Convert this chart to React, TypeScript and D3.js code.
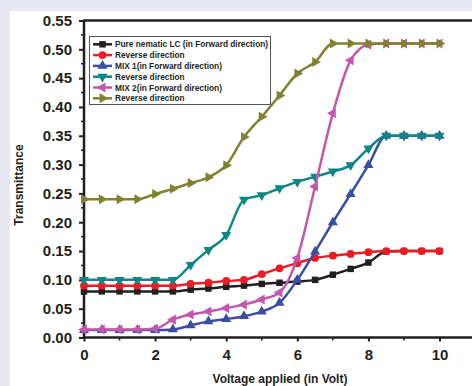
import { useEffect, useRef } from "react";
import * as d3 from "d3";

// Voltage steps (V)
const voltage = [0, 0.5, 1, 1.5, 2, 2.5, 3, 3.5, 4, 4.5, 5, 5.5, 6, 6.5, 7, 7.5, 8, 8.5, 9, 9.5, 10];

const pureForward = [0.08, 0.08, 0.08, 0.08, 0.08, 0.08, 0.083, 0.085, 0.088, 0.09, 0.093, 0.095, 0.097, 0.1, 0.109, 0.119, 0.13, 0.149, 0.15, 0.15, 0.15];
const pureReverse = [0.09, 0.09, 0.09, 0.09, 0.09, 0.09, 0.093, 0.095, 0.098, 0.1, 0.11, 0.12, 0.129, 0.138, 0.142, 0.145, 0.148, 0.15, 0.15, 0.15, 0.15];
const mix1Forward = [0.013, 0.013, 0.013, 0.013, 0.013, 0.014, 0.021, 0.028, 0.032, 0.037, 0.045, 0.06, 0.1, 0.149, 0.2, 0.249, 0.299, 0.35, 0.35, 0.35, 0.35];
const mix1Reverse = [0.1, 0.1, 0.1, 0.1, 0.1, 0.1, 0.126, 0.152, 0.178, 0.239, 0.247, 0.259, 0.27, 0.279, 0.288, 0.299, 0.328, 0.35, 0.35, 0.35, 0.35];
const mix2Forward = [0.014, 0.014, 0.014, 0.014, 0.015, 0.031, 0.04, 0.045, 0.051, 0.057, 0.066, 0.078, 0.138, 0.262, 0.389, 0.481, 0.508, 0.51, 0.51, 0.51, 0.51];
const mix2Reverse = [0.24, 0.24, 0.24, 0.24, 0.249, 0.258, 0.268, 0.278, 0.299, 0.348, 0.383, 0.42, 0.458, 0.478, 0.51, 0.51, 0.51, 0.51, 0.51, 0.51, 0.51];

const seriesNames = [
  "Pure nematic LC (in Forward direction)",
  "Reverse direction",
  "MIX 1(in Forward direction)",
  "Reverse direction",
  "MIX 2(in Forward direction)",
  "Reverse direction",
];
const seriesValues = [pureForward, pureReverse, mix1Forward, mix1Reverse, mix2Forward, mix2Reverse];
const seriesColors = ["#231f20", "#ed1c24", "#3a4fa3", "#0d8686", "#c257ac", "#808232"];
// marker: symbol type, rotation, area
const seriesMarkers: [d3.SymbolType, number, number][] = [
  [d3.symbolSquare, 0, 42],
  [d3.symbolCircle, 0, 48],
  [d3.symbolTriangle, 0, 44],
  [d3.symbolTriangle, 180, 44],
  [d3.symbolTriangle, -90, 44],
  [d3.symbolTriangle, 90, 44],
];

const xTicks = [0, 2, 4, 6, 8, 10];
const yTicks = [0, 0.05, 0.1, 0.15, 0.2, 0.25, 0.3, 0.35, 0.4, 0.45, 0.5, 0.55];

const W = 472;
const H = 386;
const FONT = "'Liberation Sans', Arial, Helvetica, sans-serif";

export default function App() {
  const svgRef = useRef<SVGSVGElement>(null);

  useEffect(() => {
    if (!svgRef.current) return;
    const svg = d3.select(svgRef.current);
    svg.selectAll("*").remove();

    // background + white panel
    svg.append("rect").attr("width", W).attr("height", H).attr("fill", "#e8e8f2");
    svg.append("rect").attr("x", 10).attr("y", 11).attr("width", W - 10).attr("height", H - 11).attr("fill", "#fff");

    const x = d3.scaleLinear().domain([0, 10]).range([84, 439.5]);
    const y = d3.scaleLinear().domain([0, 0.55]).range([337.5, 20.5]);

    // axes
    const gx = svg
      .append("g")
      .attr("transform", `translate(0,${y(0)})`)
      .call(d3.axisBottom(x).tickValues(xTicks).tickSize(4).tickPadding(8).tickFormat((d) => `${d}`));
    gx.select(".domain").remove();
    gx.selectAll(".tick line").attr("stroke", "#231f20").attr("stroke-width", 2);
    gx.selectAll(".tick text")
      .attr("fill", "#231f20")
      .attr("font-family", FONT)
      .attr("font-weight", "bold")
      .attr("font-size", "15px");
    // x minor ticks
    svg
      .append("g")
      .selectAll("line")
      .data([1, 3, 5, 7, 9])
      .join("line")
      .attr("x1", (d) => x(d))
      .attr("x2", (d) => x(d))
      .attr("y1", y(0))
      .attr("y2", y(0) + 3)
      .attr("stroke", "#231f20")
      .attr("stroke-width", 1.5);

    const gy = svg
      .append("g")
      .attr("transform", `translate(${x(0)},0)`)
      .call(d3.axisLeft(y).tickValues(yTicks).tickSize(5).tickPadding(7).tickFormat((d) => d3.format(".2f")(d as number)));
    gy.select(".domain").remove();
    gy.selectAll(".tick line").attr("stroke", "#231f20").attr("stroke-width", 2);
    gy.selectAll(".tick text")
      .attr("fill", "#231f20")
      .attr("font-family", FONT)
      .attr("font-weight", "bold")
      .attr("font-size", "15px");
    // y minor ticks
    svg
      .append("g")
      .selectAll("line")
      .data(yTicks.slice(0, -1).map((t) => t + 0.025))
      .join("line")
      .attr("x1", x(0) - 3)
      .attr("x2", x(0))
      .attr("y1", (d) => y(d))
      .attr("y2", (d) => y(d))
      .attr("stroke", "#231f20")
      .attr("stroke-width", 1.5);

    // frame lines: left, bottom, top
    svg.append("line").attr("x1", x(0)).attr("x2", x(0)).attr("y1", y(0.55) - 1).attr("y2", y(0) + 1).attr("stroke", "#231f20").attr("stroke-width", 2.5);
    svg.append("line").attr("x1", x(0)).attr("x2", W).attr("y1", y(0)).attr("y2", y(0)).attr("stroke", "#231f20").attr("stroke-width", 2.5);
    svg.append("line").attr("x1", x(0)).attr("x2", W).attr("y1", y(0.55)).attr("y2", y(0.55)).attr("stroke", "#231f20").attr("stroke-width", 2.5);

    // axis titles
    svg
      .append("text")
      .attr("x", 280)
      .attr("y", 383)
      .attr("text-anchor", "middle")
      .attr("font-family", FONT)
      .attr("font-weight", "bold")
      .attr("font-size", "12px")
      .attr("fill", "#231f20")
      .text("Voltage applied (in Volt)");
    svg
      .append("text")
      .attr("transform", `translate(23,${185}) rotate(-90)`)
      .attr("text-anchor", "middle")
      .attr("font-family", FONT)
      .attr("font-weight", "bold")
      .attr("font-size", "12px")
      .attr("fill", "#231f20")
      .text("Transmittance");

    const line = d3
      .line<number>()
      .x((_, i) => x(voltage[i]))
      .y((d) => y(d))
      .curve(d3.curveMonotoneX);

    seriesValues.forEach((vals, si) => {
      const color = seriesColors[si];
      const [type, rot, size] = seriesMarkers[si];
      const g = svg.append("g");
      g.append("path")
        .datum(vals)
        .attr("d", line)
        .attr("fill", "none")
        .attr("stroke", color)
        .attr("stroke-width", 2.5);
      g.selectAll("path.m")
        .data(vals)
        .join("path")
        .attr("class", "m")
        .attr("d", d3.symbol().type(type).size(size)())
        .attr("transform", (d, i) => `translate(${x(voltage[i])},${y(d)}) rotate(${rot})`)
        .attr("fill", color);
    });

    // legend
    const lg = svg.append("g");
    lg.append("rect")
      .attr("x", 89.5)
      .attr("y", 36.5)
      .attr("width", 181)
      .attr("height", 68)
      .attr("fill", "#fff")
      .attr("stroke", "#555")
      .attr("stroke-width", 1);
    seriesNames.forEach((name, si) => {
      const ry = 44.3 + si * 10.8;
      const color = seriesColors[si];
      const [type, rot, size] = seriesMarkers[si];
      lg.append("line").attr("x1", 93).attr("x2", 112).attr("y1", ry).attr("y2", ry).attr("stroke", color).attr("stroke-width", 2.5);
      lg.append("path")
        .attr("d", d3.symbol().type(type).size(size)())
        .attr("transform", `translate(102.5,${ry}) rotate(${rot})`)
        .attr("fill", color);
      lg.append("text")
        .attr("x", 115)
        .attr("y", ry + 3)
        .attr("font-family", FONT)
        .attr("font-weight", "bold")
        .attr("font-size", "8.3px")
        .attr("fill", "#231f20")
        .text(name);
    });
  }, []);

  return <svg ref={svgRef} width={W} height={H} style={{ position: "absolute", left: 0, top: 0 }} />;
}
